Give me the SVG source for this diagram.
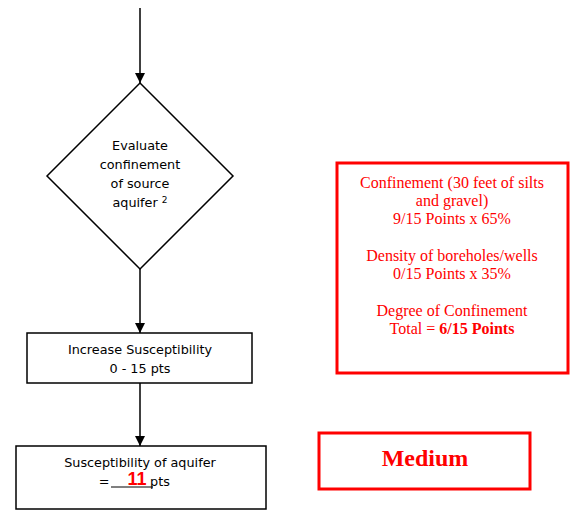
<svg xmlns="http://www.w3.org/2000/svg" width="572" height="510" viewBox="0 0 572 510">
<style>
.n{fill:#fff;stroke:#000;stroke-width:1.5}
.t{font-family:"DejaVu Sans",sans-serif;font-size:12.8px;fill:#000;text-anchor:middle}
.r{font-family:"Liberation Serif",serif;font-size:16px;fill:#ff0000;text-anchor:middle}
.c{stroke:#000;stroke-width:1.5;fill:none}
</style>
<defs>
<marker id="ah" viewBox="0 0 10 10" refX="10" refY="5" markerWidth="10" markerHeight="10" markerUnits="userSpaceOnUse" orient="auto">
<path d="M0,0L10,5L0,10z" fill="#000"/>
</marker>
</defs>
<rect width="572" height="510" fill="#fff"/>
<g id="connectors">
<line class="c" x1="140" y1="8" x2="140" y2="83" marker-end="url(#ah)"/>
<line class="c" x1="140" y1="269" x2="140" y2="333" marker-end="url(#ah)"/>
<line class="c" x1="140" y1="383" x2="140" y2="446" marker-end="url(#ah)"/>
</g>
<g id="evaluate">
<polygon class="n" points="140,83 233,176 140,269 47,176"/>
<text class="t" x="140" y="150">Evaluate</text>
<text class="t" x="140" y="169">confinement</text>
<text class="t" x="140" y="188">of source</text>
<text class="t" x="140" y="207">aquifer <tspan font-size="9" dy="-4">2</tspan></text>
</g>
<g id="increase">
<rect class="n" x="27" y="333" width="225" height="50"/>
<text class="t" x="140" y="354">Increase Susceptibility</text>
<text class="t" x="140" y="373">0 - 15 pts</text>
</g>
<g id="susceptibility">
<rect class="n" x="16" y="446" width="250" height="63"/>
<text class="t" x="140" y="467">Susceptibility of aquifer</text>
<text class="t" x="104" y="486">=</text>
<line x1="111" y1="487" x2="153" y2="487" stroke="#000" stroke-width="1"/>
<text class="t" x="160" y="486" text-anchor="start">pts</text>
<text x="137" y="485" font-family="Liberation Sans,sans-serif" font-weight="bold" font-size="18" fill="#ff0000" text-anchor="middle">11</text>
</g>
<g id="confinement-box">
<rect x="337" y="163" width="231" height="210" fill="#fff" stroke="#ff0000" stroke-width="3"/>
<text class="r" x="452" y="188">Confinement (30 feet of silts</text>
<text class="r" x="452" y="206">and gravel)</text>
<text class="r" x="452" y="224">9/15 Points x 65%</text>
<text class="r" x="452" y="261">Density of boreholes/wells</text>
<text class="r" x="452" y="279">0/15 Points x 35%</text>
<text class="r" x="452" y="316">Degree of Confinement</text>
<text class="r" x="452" y="334">Total = <tspan font-weight="bold">6/15 Points</tspan></text>
</g>
<g id="medium-box">
<rect x="319" y="433" width="211" height="56" fill="#fff" stroke="#ff0000" stroke-width="3"/>
<text x="425" y="466" font-family="Liberation Serif,serif" font-weight="bold" font-size="24" fill="#ff0000" text-anchor="middle">Medium</text>
</g>
</svg>
